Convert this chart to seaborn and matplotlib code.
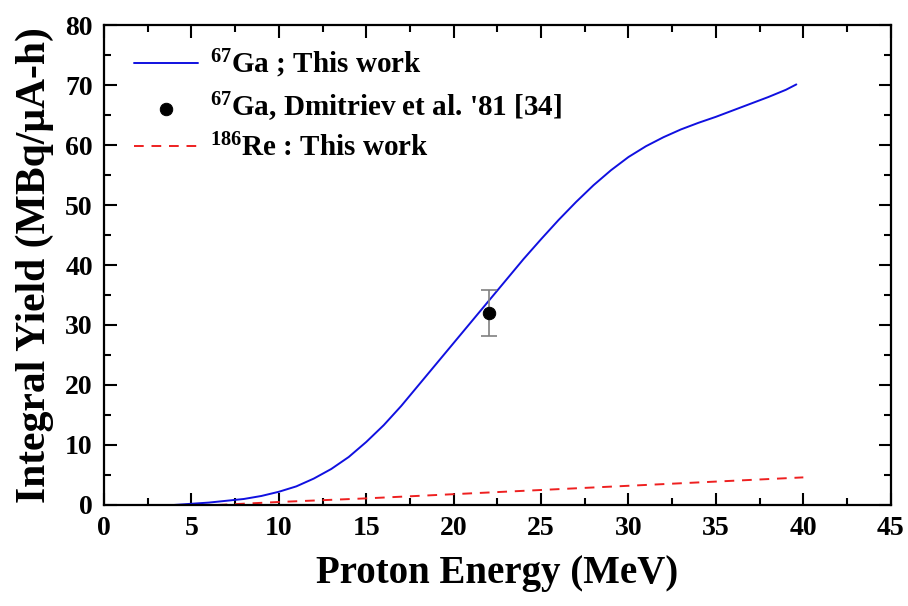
import matplotlib
matplotlib.use("Agg")
import matplotlib.pyplot as plt
import seaborn as sns
import pandas as pd
from matplotlib.ticker import MultipleLocator

# Data
ga_energy = [4, 5, 6, 7, 8, 9, 10, 11, 12, 13, 14, 15, 16, 17, 18, 19, 20, 21, 22, 23, 24, 25,
             26, 27, 28, 29, 30, 31, 32, 33, 34, 35, 36, 37, 38, 39, 39.6]
ga_yield = [0.0, 0.2, 0.4, 0.7, 1.0, 1.5, 2.2, 3.1, 4.4, 6.0, 8.0, 10.5, 13.3, 16.5, 20.0, 23.5,
            27.0, 30.5, 34.0, 37.5, 41.0, 44.3, 47.5, 50.5, 53.3, 55.8, 58.0, 59.8, 61.3, 62.6,
            63.7, 64.7, 65.8, 66.9, 68.0, 69.2, 70.1]
re_energy = [6.5, 10, 15, 20, 25, 30, 35, 40]
re_yield = [0.0, 0.5, 1.1, 1.8, 2.5, 3.2, 3.9, 4.6]
exp_energy = [22]
exp_yield = [32]
exp_err = [3.8]

sns.set_theme(style="ticks")
plt.rcParams['font.family'] = ['Liberation Serif', 'DejaVu Serif']
plt.rcParams['font.weight'] = 'bold'
plt.rcParams['text.color'] = 'black'
plt.rcParams['axes.labelcolor'] = 'black'
plt.rcParams['xtick.color'] = 'black'
plt.rcParams['ytick.color'] = 'black'
plt.rcParams['mathtext.fontset'] = 'custom'
plt.rcParams['mathtext.rm'] = 'Liberation Serif:bold'
plt.rcParams['mathtext.bf'] = 'Liberation Serif:bold'
plt.rcParams['mathtext.it'] = 'Liberation Serif:bold'

fig = plt.figure(figsize=(9.08, 6.06), dpi=100)
ax = fig.add_axes([0.1145, 0.1667, 0.8665, 0.792])

df_ga = pd.DataFrame({"E": ga_energy, "Y": ga_yield})
df_re = pd.DataFrame({"E": re_energy, "Y": re_yield})
df_exp = pd.DataFrame({"E": exp_energy, "Y": exp_yield})

sns.lineplot(data=df_ga, x="E", y="Y", ax=ax, color="#1010e0", lw=1.4,
             label=r"$^{67}$Ga ; This work")
ax.errorbar(exp_energy, exp_yield, yerr=exp_err, fmt="none", ecolor="#808080",
            elinewidth=1.2, capsize=6, capthick=1.2, zorder=3)
sns.scatterplot(data=df_exp, x="E", y="Y", ax=ax, color="black", s=80, edgecolor="black",
                zorder=4, label=r"$^{67}$Ga, Dmitriev et al. '81 [34]")
sns.lineplot(data=df_re, x="E", y="Y", ax=ax, color="#ee2020", lw=1.4, linestyle=(0, (5, 4)),
             label=r"$^{186}$Re : This work")

ax.set_xlim(0, 45)
ax.set_ylim(0, 80)
ax.xaxis.set_major_locator(MultipleLocator(5))
ax.xaxis.set_minor_locator(MultipleLocator(2.5))
ax.yaxis.set_major_locator(MultipleLocator(10))
ax.yaxis.set_minor_locator(MultipleLocator(5))
ax.tick_params(which="both", direction="in", top=True, right=True, width=1.5, colors="black")
ax.tick_params(which="major", length=9, labelsize=20, pad=8)
ax.tick_params(which="minor", length=5)
for lab in ax.get_xticklabels() + ax.get_yticklabels():
    lab.set_fontweight("bold")
for sp in ax.spines.values():
    sp.set_linewidth(1.6)
    sp.set_color("black")

ax.set_xlabel("Proton Energy (MeV)", fontsize=28, fontweight="bold", labelpad=10)
ax.set_ylabel("Integral Yield (MBq/μA-h)", fontsize=30, fontweight="bold", labelpad=8)

leg = ax.legend(loc="upper left", frameon=False, handlelength=2.2,
                bbox_to_anchor=(0.012, 0.995), borderaxespad=0.3, labelspacing=0.35,
                handletextpad=0.4, prop={"size": 21, "weight": "bold"})

fig.savefig("out.png", dpi=100)
